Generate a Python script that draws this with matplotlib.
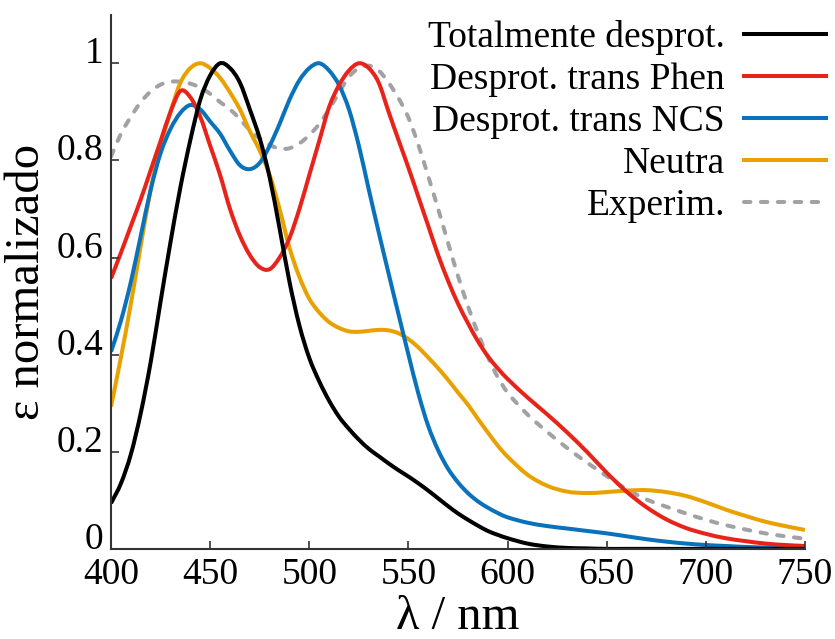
import numpy as np
import matplotlib
matplotlib.use("Agg")
import matplotlib.pyplot as plt
from matplotlib.path import Path
from matplotlib.patches import PathPatch
from matplotlib.lines import Line2D

plt.rcParams['font.family'] = ['Liberation Serif', 'DejaVu Serif']

# Longitud de onda (nm)
wl = [400, 405, 410, 415, 420, 425, 430, 435, 440, 445, 450, 455, 460, 465,
      470, 475, 480, 485, 490, 495, 500, 505, 510, 515, 520, 525, 530, 535,
      540, 545, 550, 555, 560, 565, 570, 575, 580, 585, 590, 595, 600,
      610, 620, 630, 640, 650, 660, 670, 680, 690, 700, 710, 720, 730, 740, 750]

# Espectros normalizados
total = [0.094, 0.135, 0.195, 0.28, 0.385, 0.51, 0.632, 0.745, 0.842, 0.925, 0.975, 1.0, 0.99, 0.96,
         0.905, 0.845, 0.765, 0.66, 0.55, 0.46, 0.393, 0.345, 0.305, 0.272, 0.247, 0.225, 0.206, 0.191,
         0.176, 0.162, 0.149, 0.135, 0.12, 0.104, 0.088, 0.073, 0.06, 0.048, 0.037, 0.029, 0.022,
         0.011, 0.005, 0.002, 0.001, 0.0, 0.0, 0.0, 0.0, 0.0, 0.0, 0.0, 0.0, 0.0, 0.0, 0.0]
phen = [0.557, 0.61, 0.665, 0.72, 0.78, 0.84, 0.90, 0.943, 0.93, 0.89, 0.83, 0.77, 0.70, 0.645,
        0.605, 0.58, 0.576, 0.60, 0.64, 0.70, 0.77, 0.84, 0.91, 0.955, 0.985, 1.0, 0.99, 0.96,
        0.9, 0.842, 0.785, 0.725, 0.665, 0.605, 0.552, 0.505, 0.465, 0.428, 0.397, 0.372, 0.35,
        0.312, 0.277, 0.24, 0.2, 0.157, 0.118, 0.086, 0.061, 0.043, 0.031, 0.022, 0.016, 0.011, 0.008, 0.006]
ncs = [0.406, 0.47, 0.55, 0.645, 0.74, 0.815, 0.865, 0.898, 0.914, 0.905, 0.88, 0.855, 0.82, 0.79,
       0.782, 0.795, 0.83, 0.875, 0.925, 0.965, 0.99, 1.0, 0.985, 0.955, 0.905, 0.83, 0.74, 0.652,
       0.567, 0.483, 0.4, 0.32, 0.253, 0.203, 0.165, 0.137, 0.115, 0.098, 0.085, 0.074, 0.065,
       0.054, 0.047, 0.042, 0.037, 0.032, 0.026, 0.02, 0.015, 0.011, 0.008, 0.006, 0.004, 0.003, 0.003, 0.003]
neutra = [0.293, 0.395, 0.505, 0.625, 0.74, 0.83, 0.90, 0.96, 0.99, 1.0, 0.99, 0.97, 0.94, 0.905,
          0.86, 0.82, 0.77, 0.7, 0.62, 0.56, 0.515, 0.487, 0.467, 0.455, 0.448, 0.447, 0.449, 0.451,
          0.45, 0.444, 0.432, 0.415, 0.394, 0.372, 0.348, 0.322, 0.297, 0.268, 0.24, 0.213, 0.19,
          0.153, 0.13, 0.118, 0.115, 0.117, 0.12, 0.121, 0.117, 0.109, 0.096, 0.081, 0.068, 0.056, 0.047, 0.039]
exper = [0.808, 0.855, 0.89, 0.92, 0.942, 0.956, 0.962, 0.962, 0.958, 0.95, 0.937, 0.92, 0.905, 0.885,
         0.862, 0.845, 0.832, 0.824, 0.825, 0.835, 0.852, 0.875, 0.905, 0.94, 0.972, 0.99, 0.995, 0.985,
         0.96, 0.928, 0.888, 0.832, 0.767, 0.70, 0.63, 0.562, 0.50, 0.445, 0.396, 0.354, 0.322,
         0.277, 0.241, 0.208, 0.178, 0.15, 0.123, 0.102, 0.087, 0.073, 0.06, 0.049, 0.04, 0.032, 0.026, 0.021]

etiquetas = ['Totalmente desprot.', 'Desprot. trans Phen', 'Desprot. trans NCS', 'Neutra', 'Experim.']
colores = ['black', '#E8231A', '#0A72BA', '#E9A100', '#A2A2A6']


def curva_suave(x, y):
    # curva de Hermite cubica (como Bezier) que pasa por cada punto medido
    x = np.asarray(x, float)
    y = np.asarray(y, float)
    n = len(x)
    m = np.empty(n)
    m[1:-1] = (y[2:] - y[:-2]) / (x[2:] - x[:-2])
    m[0] = (y[1] - y[0]) / (x[1] - x[0])
    m[-1] = (y[-1] - y[-2]) / (x[-1] - x[-2])
    verts = [(x[0], y[0])]
    codes = [Path.MOVETO]
    for i in range(n - 1):
        h = x[i + 1] - x[i]
        verts += [(x[i] + h / 3, y[i] + m[i] * h / 3),
                  (x[i + 1] - h / 3, y[i + 1] - m[i + 1] * h / 3),
                  (x[i + 1], y[i + 1])]
        codes += [Path.CURVE4] * 3
    return Path(verts, codes)


fig = plt.figure(figsize=(8.35, 6.39), dpi=100)
ax = fig.add_axes([0.133, 0.141, 0.831, 0.836])

lw = 2.9
series = [total, phen, ncs, neutra, exper]
handles = [None] * 5
for k in [4, 3, 2, 1, 0]:
    if k == 4:
        patch = PathPatch(curva_suave(wl, series[k]), fill=False, edgecolor=colores[k],
                          lw=lw, linestyle=(0, (1.6, 2.6)), capstyle='round')
        handles[k] = Line2D([], [], color=colores[k], lw=lw, dashes=(1.6, 2.6),
                            dash_capstyle='round')
    else:
        patch = PathPatch(curva_suave(wl, series[k]), fill=False, edgecolor=colores[k],
                          lw=lw, joinstyle='round', capstyle='butt')
        handles[k] = Line2D([], [], color=colores[k], lw=lw)
    ax.add_patch(patch)

ax.set_xlim(400, 750)
ax.set_ylim(0, 1.1)
ax.set_xticks([400, 450, 500, 550, 600, 650, 700, 750])
ax.set_yticks([0, 0.2, 0.4, 0.6, 0.8, 1.0])
ax.set_yticklabels(['0', '0.2', '0.4', '0.6', '0.8', '1'])
ax.tick_params(direction='in', length=6, width=1.2, color='#333333', labelsize=27)
ax.tick_params(axis='y', pad=5.5)
ax.tick_params(axis='x', pad=6)
for t in ax.get_yticklabels():
    t.set_verticalalignment('baseline')
for s in ['top', 'right']:
    ax.spines[s].set_visible(False)
for s in ['left', 'bottom']:
    ax.spines[s].set_color('#333333')
    ax.spines[s].set_linewidth(1.5)

ax.set_xlabel('λ / nm', fontsize=35)
ax.xaxis.set_label_coords(0.5, -0.086)
ax.set_ylabel('ε normalizado', fontsize=35)
ax.yaxis.set_label_coords(-0.09, 0.5)

fig.legend(handles, etiquetas, loc='upper right',
           bbox_to_anchor=(0.994, 0.974), frameon=False, markerfirst=False,
           fontsize=27, handlelength=2.2, handletextpad=0.5,
           labelspacing=0.2, borderpad=0.1, borderaxespad=0)

fig.savefig('out.png', dpi=100)
